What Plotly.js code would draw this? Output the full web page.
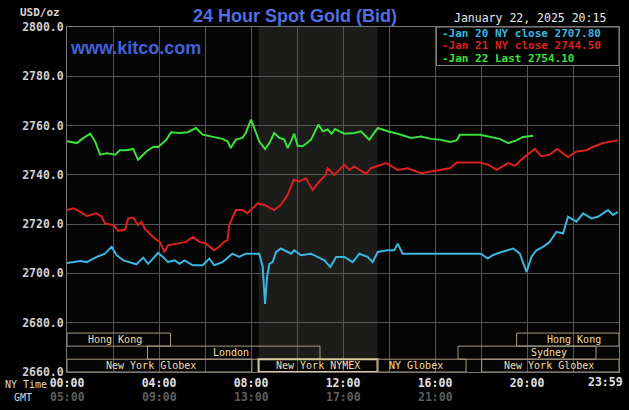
<!DOCTYPE html>
<html>
<head>
<meta charset="utf-8">
<script src="https://cdn.plot.ly/plotly-3.0.1.min.js"></script>
<style>html,body{margin:0;padding:0;background:#000;}#chart{width:629px;height:410px;}</style>
</head>
<body>
<div id="chart"></div>
<script>
// ---- data (hours since 00:00 NY time, USD/oz) ----
const jan20Hours = [0,0.58,0.86,1.29,1.65,1.94,2.16,2.45,3.02,3.31,3.53,3.96,4.17,4.39,4.68,4.89,5.11,5.47,5.90,6.19,6.40,6.76,7.19,7.48,7.77,8.13,8.36,8.51,8.61,8.70,8.80,8.94,9.09,9.30,9.74,9.88,10.17,10.61,11.19,11.45,11.70,12.06,12.42,12.71,13.07,13.29,13.51,13.94,14.23,14.38,14.59,18.0,18.29,18.51,18.89,19.40,19.69,19.98,20.19,20.41,20.70,20.99,21.28,21.57,21.78,22.15,22.44,22.80,23.08,23.52,23.74,23.95];
const jan20Values = [2704.2,2705,2704.6,2706.7,2708,2710.8,2707.4,2705.3,2703.7,2706.4,2703.9,2708.3,2706.7,2704.6,2705.3,2703.9,2705.3,2703.3,2703.3,2706,2703.3,2704.6,2708,2706.7,2708,2708,2708,2702.6,2687.6,2698.5,2703.9,2704.6,2708.7,2710.1,2708,2709.4,2707.4,2708,2705.3,2702.6,2706.7,2706.7,2704.6,2708,2706.7,2704.6,2708.7,2709.4,2709.4,2712.1,2708,2708,2706,2707.4,2708.7,2710.1,2708,2700.6,2706.7,2709.4,2710.8,2712.8,2716.9,2716.2,2723,2721,2724.4,2722.3,2723,2725.7,2723.7,2725];

const jan21Hours = [0,0.29,0.58,0.86,1.29,1.51,1.65,2.01,2.23,2.52,2.66,2.88,3.09,3.24,3.38,3.74,4.03,4.24,4.39,4.75,5.18,5.47,5.76,6.04,6.40,6.62,6.83,6.98,7.05,7.34,7.63,7.84,8.29,8.58,9.01,9.30,9.59,9.86,10.1,10.39,10.68,10.97,11.25,11.33,11.62,12.06,12.28,12.49,12.71,13.0,13.22,13.65,13.88,14.38,14.81,15.39,15.83,16.36,16.65,16.94,17.95,18.31,18.68,19.18,19.47,19.83,20.34,20.63,20.99,21.31,21.78,22.15,22.58,22.87,23.30,23.95];
const jan21Values = [2725.7,2726.4,2725,2723.3,2724.4,2723,2720.3,2719.6,2717.3,2717.8,2722.3,2722.7,2719.6,2721,2718.2,2714.8,2712.8,2708.7,2711.4,2712.1,2712.8,2714.8,2712.8,2712.1,2709.4,2710.8,2712.8,2713.5,2719.6,2725.7,2725.7,2724.4,2728.4,2727.8,2725.7,2727.8,2731.8,2738,2737.3,2738.6,2733.9,2737.3,2740,2742.7,2740,2744.1,2742,2743.4,2742,2740.4,2742.7,2744.1,2744.8,2742,2742.7,2740.7,2741.4,2742.3,2742.7,2745,2745,2744.1,2742,2744.8,2743.7,2746.8,2750.5,2747.5,2748.2,2750.5,2747.2,2749.5,2750,2751.3,2752.9,2754];

const jan22Hours = [0,0.43,0.72,1.01,1.22,1.44,1.73,2.09,2.30,2.59,2.88,3.09,3.45,3.74,3.97,4.32,4.53,4.89,5.25,5.61,5.90,6.33,6.76,6.98,7.12,7.34,7.63,7.77,8.0,8.14,8.36,8.61,8.80,9.01,9.23,9.45,9.59,9.74,9.88,10.03,10.25,10.61,10.93,11.12,11.33,11.51,11.65,12.06,12.49,12.78,13.14,13.51,13.94,14.38,14.96,15.39,15.83,16.22,16.65,16.94,17.08,17.95,18.39,18.82,19.18,19.54,19.83,20.27];
const jan22Values = [2753.6,2752.9,2755,2756.7,2753.6,2748.2,2748.8,2748.2,2750,2750,2750.5,2746.1,2749.5,2751.3,2751.3,2754.3,2757.3,2757,2757.3,2759,2756.3,2755.6,2754.6,2753.6,2750.9,2754.3,2755,2757,2762.4,2759,2753.6,2750.5,2752.9,2757,2755,2754.3,2750.9,2753.6,2756.7,2751.8,2751.6,2754.3,2760.4,2757.7,2758.4,2756.7,2758.6,2756.7,2757,2757.7,2754.3,2759,2757.7,2756.7,2755,2755.6,2754.6,2754.3,2753.3,2754,2756.3,2756.3,2755.4,2754.6,2752.9,2754,2755.4,2755.9];

const xTickVals = [0,2,4,6,8,10,12,14,16,18,20,22];
const nyTimeLabels = ['00:00','','04:00','','08:00','','12:00','','16:00','','20:00',''];
const gmtHours = [0,4,8,12,16];
const gmtLabels = ['05:00','09:00','13:00','17:00','21:00'];
const yTickVals = [2660,2680,2700,2720,2740,2760,2780,2800];

const legendLines = ['-Jan 20 NY close 2707.80','-Jan 21 NY close 2744.50','-Jan 22 Last 2754.10'];
const seriesColors = ['#3ab6e0','#dc2020','#3ce03c'];

// sessions: [start hour, end hour, row, label, label hour]
const sessions = [
  [0,4.5,1,'Hong Kong',2.1],
  [19.55,24,1,'Hong Kong',22.06],
  [3.5,11,2,'London',7.15],
  [17,23,2,'Sydney',20.97],
  [0,8.04,3,'New York Globex',3.64],
  [8.33,13.5,3,'New York NYMEX',10.9],
  [13.5,17.35,3,'NY Globex',15.19],
  [18.03,24,3,'New York Globex',20.97]
];
const nymexHours = [8.33,13.5];

// ---- build ----
const mono = 'DejaVu Sans Mono, Liberation Mono, monospace';
const rowBounds = {1:[2670.5,2675.8],2:[2665.2,2670.5],3:[2660,2665.2]};

const traces = [
  {x:jan20Hours,y:jan20Values,mode:'lines',line:{color:seriesColors[0],width:2},hoverinfo:'skip'},
  {x:jan21Hours,y:jan21Values,mode:'lines',line:{color:seriesColors[1],width:2},hoverinfo:'skip'},
  {x:jan22Hours,y:jan22Values,mode:'lines',line:{color:seriesColors[2],width:2},hoverinfo:'skip'}
];

const shapes = [];
shapes.push({type:'rect',xref:'x',yref:'y',x0:nymexHours[0],x1:nymexHours[1],y0:2665.2,y1:2800,fillcolor:'#1c1c1a',line:{width:0},layer:'below'});
sessions.forEach(s=>{
  const b = rowBounds[s[2]];
  const hl = s[3]==='New York NYMEX';
  shapes.push({type:'rect',xref:'x',yref:'y',x0:s[0],x1:s[1],y0:b[0],y1:b[1],
    fillcolor:'rgba(0,0,0,0)',line:{color:hl?'#d8c89c':'#a89c82',width:hl?2:1},layer:'above'});
});
shapes.push({type:'rect',xref:'x',yref:'y',x0:16.06,x1:24,y0:2784.4,y1:2800,fillcolor:'#000',line:{color:'#8a8a8a',width:1},layer:'above'});

const annotations = [];
sessions.forEach(s=>{
  const b = rowBounds[s[2]];
  annotations.push({xref:'x',yref:'y',x:s[4],y:(b[0]+b[1])/2,text:s[3],showarrow:false,
    font:{family:mono,size:10,color:'#f2dcae'},xanchor:'center',yanchor:'middle'});
});
gmtHours.forEach((h,i)=>{
  annotations.push({xref:'x',yref:'paper',x:h,y:-0.0725,text:gmtLabels[i],showarrow:false,
    font:{family:mono,size:11.5,color:'#5e5e5e',weight:'bold'},xanchor:'center',yanchor:'middle'});
});
annotations.push({xref:'x',yref:'paper',x:24,xshift:6,y:-0.0295,text:'23:59',showarrow:false,
  font:{family:mono,size:11.5,color:'#e0e0e0',weight:'bold'},xanchor:'right',yanchor:'middle'});
annotations.push({xref:'paper',yref:'paper',x:-0.1153,y:-0.0348,text:'NY Time',showarrow:false,
  font:{family:mono,size:10,color:'#d8d8d8'},xanchor:'left',yanchor:'middle'});
annotations.push({xref:'paper',yref:'paper',x:-0.099,y:-0.0725,text:'GMT',showarrow:false,
  font:{family:mono,size:10,color:'#d8d8d8'},xanchor:'left',yanchor:'middle'});
annotations.push({xref:'paper',yref:'paper',x:-0.0085,y:1.0406,text:'USD/oz',showarrow:false,
  font:{family:mono,size:11,color:'#d8d8d8',weight:'bold'},xanchor:'right',yanchor:'middle'});
annotations.push({xref:'paper',yref:'paper',x:0.9796,y:1.026,text:'January 22, 2025 20:15',showarrow:false,
  font:{family:mono,size:11.5,color:'#e8e8e8'},xanchor:'right',yanchor:'middle'});
annotations.push({xref:'paper',yref:'paper',x:0.0024,y:0.939,text:'www.kitco.com',showarrow:false,
  font:{family:'Liberation Sans, Arial, sans-serif',size:18,color:'#4262dc',weight:'bold'},xanchor:'left',yanchor:'middle'});
legendLines.forEach((t,i)=>{
  annotations.push({xref:'paper',yref:'paper',x:0.6757,y:[0.9812,0.945,0.9087][i],text:t,showarrow:false,
    font:{family:mono,size:11,color:seriesColors[i],weight:'bold'},xanchor:'left',yanchor:'middle'});
});

const layout = {
  width:629,height:410,
  margin:{l:67,r:10,t:27,b:38,pad:0},
  paper_bgcolor:'#000',plot_bgcolor:'#050505',
  showlegend:false,
  title:{text:'24 Hour Spot Gold (Bid)',x:0.469,xanchor:'center',y:0.961,yanchor:'middle',
    font:{family:'Liberation Sans, Arial, sans-serif',size:18,color:'#4f6fe0',weight:'bold'}},
  xaxis:{range:[0,24],tickvals:xTickVals,ticktext:nyTimeLabels,gridcolor:'#555',gridwidth:1,
    showline:true,mirror:true,linecolor:'#777',linewidth:1,zeroline:false,ticks:'',
    tickfont:{family:mono,size:11.5,color:'#e0e0e0',weight:'bold'},fixedrange:true},
  yaxis:{range:[2660,2800],tickvals:yTickVals,tickformat:'.1f',gridcolor:'#555',gridwidth:1,
    showline:true,mirror:true,linecolor:'#777',linewidth:1,zeroline:false,ticks:'',
    tickfont:{family:mono,size:11.5,color:'#d0d0d0',weight:'bold'},fixedrange:true},
  shapes:shapes,annotations:annotations
};

Plotly.newPlot('chart',traces,layout,{staticPlot:true,displayModeBar:false});
</script>
</body>
</html>
